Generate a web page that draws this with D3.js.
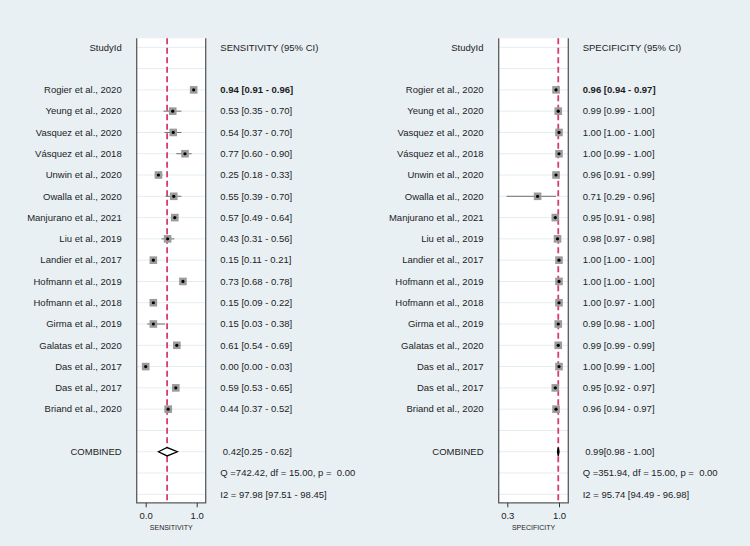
<!DOCTYPE html>
<html>
<head>
<meta charset="utf-8">
<script src="https://cdn.jsdelivr.net/npm/d3@7/dist/d3.min.js"></script>
<style>
  html, body { margin: 0; padding: 0; background: #e9f0f4; }
  svg { display: block; font-family: "Liberation Sans", Arial, sans-serif; }
</style>
</head>
<body>
<svg id="chart" width="750" height="546"></svg>
<script>
// ---------------- DATA ----------------
const studies = [
  "Rogier et al., 2020", "Yeung et al., 2020", "Vasquez et al., 2020", "Vásquez et al., 2018",
  "Unwin et al., 2020", "Owalla et al., 2020", "Manjurano et al., 2021", "Liu et al., 2019",
  "Landier et al., 2017", "Hofmann et al., 2019", "Hofmann et al., 2018", "Girma et al., 2019",
  "Galatas et al., 2020", "Das et al., 2017", "Das et al., 2017", "Briand et al., 2020"
];
const sensEst = [0.94, 0.53, 0.54, 0.77, 0.25, 0.55, 0.57, 0.43, 0.15, 0.73, 0.15, 0.15, 0.61, 0.00, 0.59, 0.44];
const sensLo  = [0.91, 0.35, 0.37, 0.60, 0.18, 0.39, 0.49, 0.31, 0.11, 0.68, 0.09, 0.03, 0.54, 0.00, 0.53, 0.37];
const sensHi  = [0.96, 0.70, 0.70, 0.90, 0.33, 0.70, 0.64, 0.56, 0.21, 0.78, 0.22, 0.38, 0.69, 0.03, 0.65, 0.52];
const specEst = [0.96, 0.99, 1.00, 1.00, 0.96, 0.71, 0.95, 0.98, 1.00, 1.00, 1.00, 0.99, 0.99, 1.00, 0.95, 0.96];
const specLo  = [0.94, 0.99, 1.00, 0.99, 0.91, 0.29, 0.91, 0.97, 1.00, 1.00, 0.97, 0.98, 0.99, 0.99, 0.92, 0.94];
const specHi  = [0.97, 1.00, 1.00, 1.00, 0.99, 0.96, 0.98, 0.98, 1.00, 1.00, 1.00, 1.00, 0.99, 1.00, 0.97, 0.97];
const sensCombined = { est: 0.42, lo: 0.25, hi: 0.62 };
const specCombined = { est: 0.99, lo: 0.98, hi: 1.00 };
const sensStats = ["0.42[0.25 - 0.62]", "Q =742.42, df = 15.00, p =  0.00", "I2 = 97.98 [97.51 - 98.45]"];
const specStats = ["0.99[0.98 - 1.00]", "Q =351.94, df = 15.00, p =  0.00", "I2 = 95.74 [94.49 - 96.98]"];
const sensTicks = [0, 1];
const specTicks = [0.3, 1];
const sensTickLabels = ["0.0", "1.0"];
const specTickLabels = ["0.3", "1.0"];
const sensDomain = [-0.176, 1.176];
const specDomain = [0.1836, 1.126];

// ---------------- LAYOUT ----------------
const svg = d3.select("#chart");
const FONT = 9.5;
const textColor = "#1c1c1c";
const red = "#d93a6f";

// row index scale: header row = -2, studies 0..15, combined 17, Q 18, I2 19
const y = d3.scaleLinear().domain([-2, 19]).range([47.3, 494.3]);
const panelTop = 38.3, panelBottom = 502.8;
const rowsAll = d3.range(-2, 20);

function fmt(v) { return d3.format(".2f")(v); }

function drawPanel(cfg) {
  const x = d3.scaleLinear().domain(cfg.domain).range([cfg.left, cfg.right]);
  const g = svg.append("g");

  // white panel
  g.append("rect").attr("x", cfg.left).attr("y", panelTop)
    .attr("width", cfg.right - cfg.left).attr("height", panelBottom - panelTop)
    .attr("fill", "#ffffff");

  // gridlines
  g.selectAll("line.grid").data(rowsAll).join("line")
    .attr("x1", cfg.left).attr("x2", cfg.right)
    .attr("y1", d => y(d)).attr("y2", d => y(d))
    .attr("stroke", "#e3edf1").attr("stroke-width", 1);

  // red dashed combined line
  g.append("line")
    .attr("x1", x(cfg.combined.est)).attr("x2", x(cfg.combined.est))
    .attr("y1", panelTop).attr("y2", panelBottom)
    .attr("stroke", red).attr("stroke-width", 1.8)
    .attr("stroke-dasharray", "6,3.5");

  // whiskers
  const idx = d3.range(cfg.est.length);
  g.selectAll("line.ci").data(idx).join("line")
    .attr("x1", i => x(cfg.lo[i])).attr("x2", i => x(cfg.hi[i]))
    .attr("y1", i => y(i)).attr("y2", i => y(i))
    .attr("stroke", "#6f6f6f").attr("stroke-width", 1);

  // boxes
  const bs = 7.6;
  g.selectAll("rect.box").data(idx).join("rect")
    .attr("x", i => x(cfg.est[i]) - bs / 2).attr("y", i => y(i) - bs / 2)
    .attr("width", bs).attr("height", bs)
    .attr("fill", "#9b9b9b");
  g.selectAll("circle.dot").data(idx).join("circle")
    .attr("cx", i => x(cfg.est[i])).attr("cy", i => y(i))
    .attr("r", 1.6).attr("fill", "#000");

  // combined diamond
  const cy = y(17), dh = 4.2;
  const c = cfg.combined;
  g.append("path")
    .attr("d", `M${x(c.lo)},${cy} L${x(c.est)},${cy - dh} L${x(c.hi)},${cy} L${x(c.est)},${cy + dh} Z`)
    .attr("fill", cfg.diamondFill).attr("stroke", "#000").attr("stroke-width", 1.3)
    .attr("stroke-linejoin", "miter");

  // borders (left, right, bottom)
  g.append("path")
    .attr("d", `M${cfg.left},${panelTop} V${panelBottom} H${cfg.right} V${panelTop}`)
    .attr("fill", "none").attr("stroke", "#5a5a5a").attr("stroke-width", 1.3);

  // axis
  const axis = d3.axisBottom(x).tickValues(cfg.ticks)
    .tickFormat((d, i) => cfg.tickLabels[i]).tickSize(4.5).tickSizeOuter(0);
  const ag = g.append("g").attr("transform", `translate(0,${panelBottom})`).call(axis);
  ag.select(".domain").remove();
  ag.selectAll(".tick line").attr("stroke", "#333").attr("stroke-width", 1);
  ag.selectAll(".tick text").attr("fill", textColor).attr("font-size", FONT)
    .attr("font-family", "Liberation Sans, Arial, sans-serif").attr("dy", "0.95em");

  g.append("text").attr("x", (cfg.left + cfg.right) / 2).attr("y", 529.5)
    .attr("text-anchor", "middle").attr("font-size", 7).attr("fill", textColor)
    .text(cfg.axisTitle);

  // labels column (study names)
  g.append("text").attr("x", cfg.nameX).attr("y", y(-2)).attr("dy", "0.35em")
    .attr("text-anchor", "end").attr("font-size", FONT).attr("fill", textColor).text("StudyId");
  g.selectAll("text.name").data(studies).join("text")
    .attr("x", cfg.nameX).attr("y", (d, i) => y(i)).attr("dy", "0.35em")
    .attr("text-anchor", "end").attr("font-size", FONT).attr("fill", textColor)
    .text(d => d);
  g.append("text").attr("x", cfg.nameX).attr("y", y(17)).attr("dy", "0.35em")
    .attr("text-anchor", "end").attr("font-size", FONT).attr("fill", textColor).text("COMBINED");

  // values column
  g.append("text").attr("x", cfg.valX).attr("y", y(-2)).attr("dy", "0.35em")
    .attr("font-size", FONT).attr("fill", textColor).text(cfg.header);
  g.selectAll("text.val").data(idx).join("text")
    .attr("x", cfg.valX).attr("y", i => y(i)).attr("dy", "0.35em")
    .attr("font-size", FONT).attr("fill", textColor)
    .attr("font-weight", i => i === 0 ? "bold" : "normal")
    .text(i => `${fmt(cfg.est[i])} [${fmt(cfg.lo[i])} - ${fmt(cfg.hi[i])}]`);
  g.selectAll("text.stat").data(cfg.stats).join("text")
    .attr("x", (d, i) => i === 0 ? cfg.valX + 2.5 : cfg.valX)
    .attr("y", (d, i) => y(17 + i)).attr("dy", "0.35em")
    .attr("font-size", FONT).attr("fill", textColor)
    .style("white-space", "pre").attr("xml:space", "preserve")
    .text(d => d);
}

drawPanel({
  left: 136.7, right: 205.7, domain: sensDomain,
  est: sensEst, lo: sensLo, hi: sensHi, combined: sensCombined,
  ticks: sensTicks, tickLabels: sensTickLabels, axisTitle: "SENSITIVITY",
  nameX: 121.7, valX: 220.3, header: "SENSITIVITY (95% CI)", stats: sensStats,
  diamondFill: "#ffffff"
});
drawPanel({
  left: 498.7, right: 568.3, domain: specDomain,
  est: specEst, lo: specLo, hi: specHi, combined: specCombined,
  ticks: specTicks, tickLabels: specTickLabels, axisTitle: "SPECIFICITY",
  nameX: 483.5, valX: 582.7, header: "SPECIFICITY (95% CI)", stats: specStats,
  diamondFill: "#000000"
});
</script>
</body>
</html>
